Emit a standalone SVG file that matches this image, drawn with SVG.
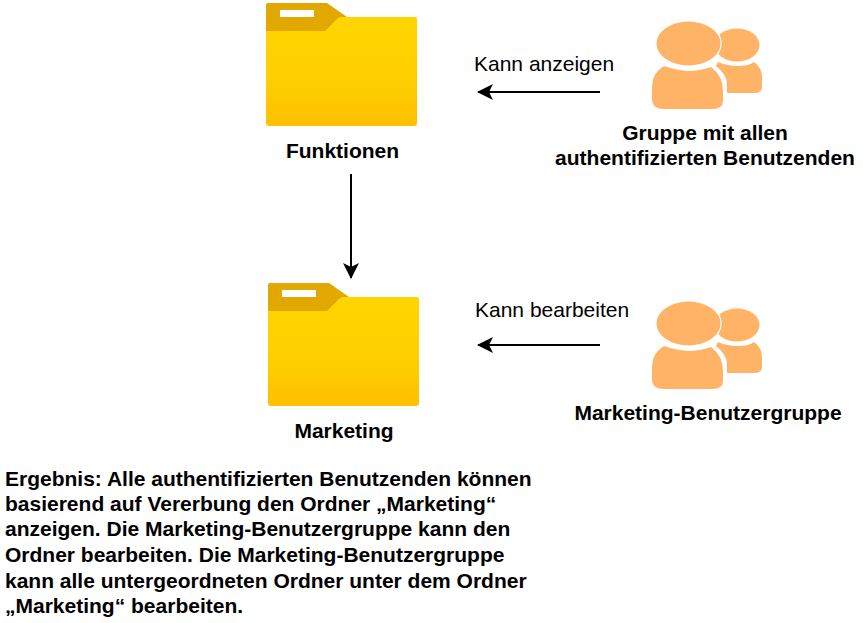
<svg xmlns="http://www.w3.org/2000/svg" width="863" height="623" viewBox="0 0 863 623">
<style>
text{font-family:"Liberation Sans",Arial,sans-serif;font-size:21px;fill:#000}
.b{font-weight:700}
.m{text-anchor:middle}
.c{fill:none;stroke:#000;stroke-width:2}
.u{fill:#ffb366}
</style>
<defs>
<linearGradient id="g" x1="0" y1="0" x2="0" y2="1"><stop offset="0" stop-color="#ffd500"/><stop offset="0.6" stop-color="#ffce00"/><stop offset="1" stop-color="#ffc000"/></linearGradient>
<marker id="d" markerUnits="userSpaceOnUse" markerWidth="18" markerHeight="18" refX="15" refY="8" orient="auto"><path d="M0 0 L16 8 L0 16 L4 8 Z" fill="#000"/></marker>
<g id="folder">
<path d="M268 3 H327 L347 17 V40 H266 V5 Q266 3 268 3 Z" fill="#e0a800"/>
<rect x="280" y="10" width="34" height="7" fill="#fff"/>
<path d="M266 31 H325 L337 19 Q339 17 342 17 H415 Q417 17 417 19 V123 Q417 126 414 126 H269 Q266 126 266 123 Z" fill="url(#g)"/>
</g>
<g id="users" class="u">
<path d="M718 62 Q727 66 738 66 Q749 66 754 62 Q762 68 762 77 V87 Q762 93 754 93 H727 V83 Q726 74 716 66 Z"/>
<ellipse cx="737" cy="45" rx="22.500" ry="16.500"/>
<path d="M664 66 Q675 70 688 71 Q700 71 711 67 Q723 76 723 91 V101 Q723 109 712 109 H664 Q652 109 652 99 V87 Q652 73 664 66 Z"/>
<ellipse cx="688.500" cy="43.500" rx="32" ry="22" stroke="#fff" stroke-width="2.500" paint-order="stroke"/>
</g>
</defs>
<g id="connectors">
<path class="c" d="M351 174 V278" marker-end="url(#d)"/>
<path class="c" d="M600 92 H478" marker-end="url(#d)"/>
<path class="c" d="M600 345 H478" marker-end="url(#d)"/>
</g>
<g id="funktionen"><use href="#folder"/><text class="b m" x="342.500" y="158">Funktionen</text></g>
<g id="marketing"><use href="#folder" x="2" y="280"/><text class="b m" x="344" y="438">Marketing</text></g>
<g id="alle-benutzer"><use href="#users"/><text class="b m" x="705" y="140">Gruppe mit allen</text><text class="b m" x="705" y="165">authentifizierten Benutzenden</text></g>
<g id="marketing-gruppe"><use href="#users" y="280"/><text class="b m" x="708" y="420">Marketing-Benutzergruppe</text></g>
<g id="label-anzeigen"><text x="474" y="71">Kann anzeigen</text></g>
<g id="label-bearbeiten"><text x="475" y="317">Kann bearbeiten</text></g>
<g id="ergebnis">
<text class="b" x="5" y="486">Ergebnis: Alle authentifizierten Benutzenden können</text>
<text class="b" x="5" y="511">basierend auf Vererbung den Ordner „Marketing“</text>
<text class="b" x="5" y="536">anzeigen. Die Marketing-Benutzergruppe kann den</text>
<text class="b" x="5" y="562">Ordner bearbeiten. Die Marketing-Benutzergruppe</text>
<text class="b" x="5" y="588">kann alle untergeordneten Ordner unter dem Ordner</text>
<text class="b" x="5" y="613">„Marketing“ bearbeiten.</text>
</g>
</svg>
